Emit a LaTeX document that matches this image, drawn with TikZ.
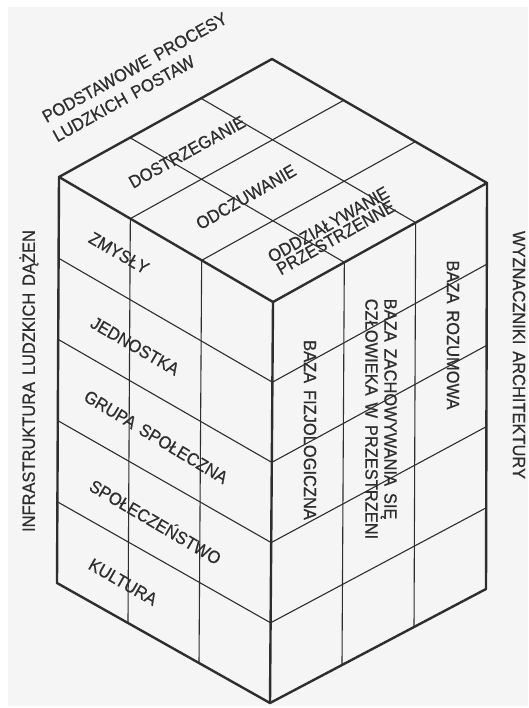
\documentclass[tikz,border=0pt]{standalone}
\usepackage{fontspec}
\setmainfont{Liberation Sans}[WordSpace=1.5, FakeStretch=0.93, FakeBold=0.6]
\usetikzlibrary{calc}
\definecolor{ink}{HTML}{2E2E2E}
\definecolor{paper}{HTML}{F5F5F5}
\begin{document}
\begin{tikzpicture}[x=1pt,y=-1pt,
  edge/.style={draw=ink, line width=2.4pt, line cap=round, line join=round},
  gridline/.style={draw=ink, line width=1.1pt},
  lbl/.style={font=\fontsize{17.7}{19}\selectfont, text=ink, inner sep=0pt},
]
\useasboundingbox (0,0) rectangle (528,708);
\fill[white] (0,0) rectangle (528,708);
\fill[paper] (8,7) rectangle (528,706);

\coordinate (T) at (272,59);
\coordinate (L) at (59,177);
\coordinate (F) at (273,302);
\coordinate (R) at (487,183);
\coordinate (Lb) at (57,583);
\coordinate (Fb) at (270,703);
\coordinate (Rb) at (486,589);

% left face grid
\foreach \t in {0.3333,0.6667}
  \draw[gridline] ($(L)!\t!(F)$) -- ($(Lb)!\t!(Fb)$);
\foreach \t in {0.2,0.4,0.6,0.8}
  \draw[gridline] ($(L)!\t!(Lb)$) -- ($(F)!\t!(Fb)$);
% right face grid
\foreach \t in {0.3333,0.6667}
  \draw[gridline] ($(F)!\t!(R)$) -- ($(Fb)!\t!(Rb)$);
\foreach \t in {0.2,0.4,0.6,0.8}
  \draw[gridline] ($(F)!\t!(Fb)$) -- ($(R)!\t!(Rb)$);
% top face grid
\foreach \t in {0.3333,0.6667}{
  \draw[gridline] ($(T)!\t!(L)$) -- ($(R)!\t!(F)$);
  \draw[gridline] ($(T)!\t!(R)$) -- ($(L)!\t!(F)$);
}
% outline
\draw[edge] (T) -- (L) -- (Lb) -- (Fb) -- (Rb) -- (R) -- cycle;
\draw[edge] (L) -- (F) -- (R);
\draw[edge] (F) -- (Fb);

% labels
\node[lbl, rotate=29, align=left, font=\fontsize{17.7}{22}\selectfont] (title) at (140,77) {PODSTAWOWE PROCESY\\LUDZKICH POSTAW};
\node[lbl, rotate=29] (dos) at (187,152) {DOSTRZEGANIE};
\node[lbl, rotate=30] (odc) at (246,197) {ODCZUWANIE};
\node[lbl, rotate=29.5, align=center, font=\fontsize{17.7}{15}\selectfont] (odd) at (332,231) {ODDZIAŁYWANIE\\PRZESTRZENNE};

\node[lbl, rotate=-30] (zmy) at (119,253) {ZMYSŁY};
\node[lbl, rotate=-30] (jed) at (135,346) {JEDNOSTKA};
\node[lbl, rotate=-31] (gru) at (156,437) {GRUPA SPOŁECZNA};
\node[lbl, rotate=-30.5] (spo) at (156,521) {SPOŁECZEŃSTWO};
\node[lbl, rotate=-30] (kul) at (123,582) {KULTURA};

\node[lbl, rotate=-90] (fiz) at (310,430) {BAZA FIZJOLOGICZNA};
\node[lbl, rotate=-90, align=left] (zach) at (381,419) {BAZA ZACHOWYWANIA SIĘ\\CZŁOWIEKA W PRZESTRZENI};
\node[lbl, rotate=-90] (roz) at (453,335) {BAZA ROZUMOWA};

\node[lbl, rotate=-90] (wyz) at (519,355) {WYZNACZNIKI ARCHITEKTURY};
\node[lbl, rotate=90] (inf) at (29,381) {INFRASTRUKTURA LUDZKICH DĄŻEN};
\end{tikzpicture}
\end{document}
